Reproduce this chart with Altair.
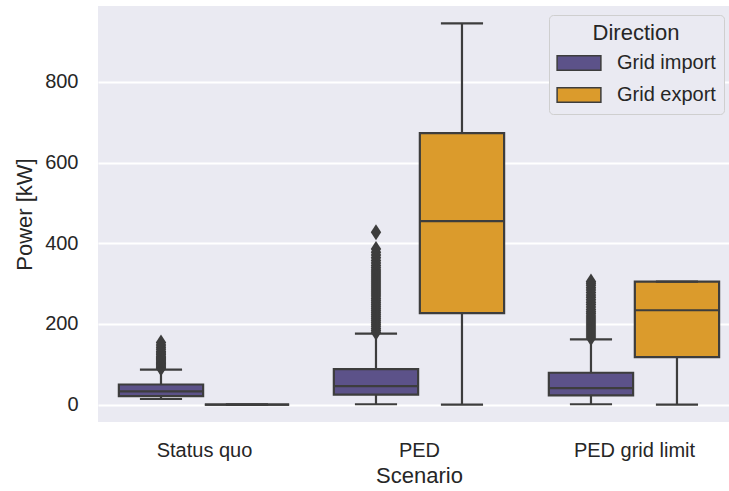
import json

import altair as alt
import pandas as pd

# ---- data (kW) -------------------------------------------------------------
scenarios = ["Status quo", "PED", "PED grid limit"]
directions = ["Grid import", "Grid export"]
palette = ["#5c5289", "#db9b2c"]

# box-plot summaries per scenario: lower whisker, Q1, median, Q3, upper whisker
import_low = [14, 1, 1]
import_q1 = [21, 25, 23]
import_median = [33, 46, 41]
import_q3 = [50, 88, 79]
import_high = [87, 176, 162]

export_low = [0, 0, 0]
export_q1 = [0, 227, 118]
export_median = [0, 455, 234]
export_q3 = [0, 673, 305]
export_high = [0, 945, 305]

# points beyond the upper whisker (grid import only)
status_quo_import_fliers = [90, 93, 96, 99, 102, 105, 108, 111, 114, 117, 120,
                            124, 128, 132, 137, 142, 148, 154]
ped_import_fliers = [179, 184, 189, 194, 199, 204, 209, 214, 219, 224, 229,
                     234, 239, 244, 249, 254, 259, 264, 269, 274, 279, 284,
                     289, 294, 299, 304, 309, 314, 319, 324, 329, 334, 339,
                     345, 351, 357, 364, 371, 378, 386, 427]
grid_limit_import_fliers = [165, 170, 175, 180, 185, 190, 195, 200, 205, 210,
                            215, 220, 225, 230, 236, 242, 248, 254, 260, 266,
                            272, 278, 284, 290, 296, 301, 305]

# ---- tables ------------------------------------------------------------------
DODGE = 0.2          # hue offset from the category centre
HALF_BOX = 0.196     # half of a box width
HALF_CAP = 0.098     # half of a whisker cap width

summaries = {
    "Grid import": (import_low, import_q1, import_median, import_q3, import_high),
    "Grid export": (export_low, export_q1, export_median, export_q3, export_high),
}
rows = []
for d_idx, direction in enumerate(directions):
    low, q1, med, q3, high = summaries[direction]
    for s_idx, scenario in enumerate(scenarios):
        rows.append({
            "scenario": scenario,
            "direction": direction,
            "pos": s_idx + (DODGE if d_idx else -DODGE),
            "low": low[s_idx], "q1": q1[s_idx], "median": med[s_idx],
            "q3": q3[s_idx], "high": high[s_idx],
        })
summary = pd.DataFrame(rows)

flier_rows = []
for s_idx, values in enumerate([status_quo_import_fliers, ped_import_fliers,
                                grid_limit_import_fliers]):
    for v in values:
        flier_rows.append({"scenario": scenarios[s_idx], "direction": "Grid import",
                           "pos": s_idx - DODGE, "value": v})
fliers = pd.DataFrame(flier_rows)

# ---- styling -----------------------------------------------------------------
EDGE = "#3d3d3d"
TEXT = "#262626"
FONT = "Liberation Sans"
LW = 2.2

x_scale = alt.Scale(domain=[-0.493, 2.442], nice=False, zero=False)
y_scale = alt.Scale(domain=[-43, 988], nice=False, zero=False)

label_expr = "{}[datum.value]".format(json.dumps(scenarios))

x_axis = alt.Axis(
    values=[0, 1, 2], labelExpr=label_expr, grid=False, ticks=False, tickSize=0,
    domain=False, labelFontSize=20, labelPadding=18, labelColor=TEXT,
    titleFontSize=22, titleFontWeight="normal", titleColor=TEXT,
    titleX=321, titleY=60, titleBaseline="alphabetic",
)
y_axis = alt.Axis(
    values=[0, 200, 400, 600, 800], grid=True, gridColor="white", gridWidth=1.8,
    ticks=False, tickSize=0, domain=False, labelFontSize=20, labelPadding=20,
    labelColor=TEXT, titleFontSize=22, titleFontWeight="normal", titleColor=TEXT,
    titleX=-67, titleY=208, titleBaseline="alphabetic", titleAngle=270,
)

legend = alt.Legend(
    orient="none", legendX=451, legendY=9, title="Direction",
    titleFontSize=22, titleFontWeight="normal", titleColor=TEXT,
    titleAnchor="middle", titlePadding=8,
    labelFontSize=20, labelColor=TEXT, labelOffset=28,
    symbolType="M-3,-1H3V1H-3Z", symbolSize=213, symbolOffset=12,
    symbolStrokeColor=EDGE, symbolStrokeWidth=1.5, symbolOpacity=1,
    rowPadding=10, padding=8, fillColor="#eaeaf2", strokeColor="#cfcfcf",
    cornerRadius=4,
)

base = alt.Chart(summary)

whiskers_up = base.mark_rule(color=EDGE, strokeWidth=LW).encode(
    x=alt.X("pos:Q", scale=x_scale, axis=x_axis, title="Scenario"),
    y=alt.Y("q3:Q", scale=y_scale, axis=y_axis, title="Power [kW]"),
    y2="high:Q",
)
whiskers_down = base.mark_rule(color=EDGE, strokeWidth=LW).encode(
    x="pos:Q", y="low:Q", y2="q1:Q",
)

boxes = base.transform_calculate(
    left=f"datum.pos - {HALF_BOX}", right=f"datum.pos + {HALF_BOX}"
).mark_rect(stroke=EDGE, strokeWidth=LW, opacity=1).encode(
    x="left:Q", x2="right:Q", y="q1:Q", y2="q3:Q",
    color=alt.Color("direction:N",
                    scale=alt.Scale(domain=directions, range=palette),
                    legend=legend),
)

medians = base.transform_calculate(
    left=f"datum.pos - {HALF_BOX}", right=f"datum.pos + {HALF_BOX}"
).mark_rule(color=EDGE, strokeWidth=LW).encode(
    x="left:Q", x2="right:Q", y="median:Q",
)

caps_base = base.transform_calculate(
    cl=f"datum.pos - {HALF_CAP}", cr=f"datum.pos + {HALF_CAP}"
)
caps_high = caps_base.mark_rule(color=EDGE, strokeWidth=LW).encode(
    x="cl:Q", x2="cr:Q", y="high:Q",
)
caps_low = caps_base.mark_rule(color=EDGE, strokeWidth=LW).encode(
    x="cl:Q", x2="cr:Q", y="low:Q",
)

flier_points = alt.Chart(fliers).mark_point(
    shape="M0,-1L0.65,0L0,1L-0.65,0Z", size=256, filled=True,
    color=EDGE, opacity=1, strokeWidth=0,
).encode(x="pos:Q", y="value:Q")

chart = alt.layer(
    whiskers_up, whiskers_down, boxes, medians, caps_high, caps_low, flier_points
).properties(
    width=631, height=416,
    padding={"left": 98, "top": 6, "right": 0, "bottom": 69},
    autosize=alt.AutoSizeParams(type="none"),
    background="white",
).configure(
    font=FONT,
).configure_view(
    fill="#eaeaf2", strokeWidth=0,
)

chart.save("out.html", embed_options={"renderer": "svg", "actions": False})
